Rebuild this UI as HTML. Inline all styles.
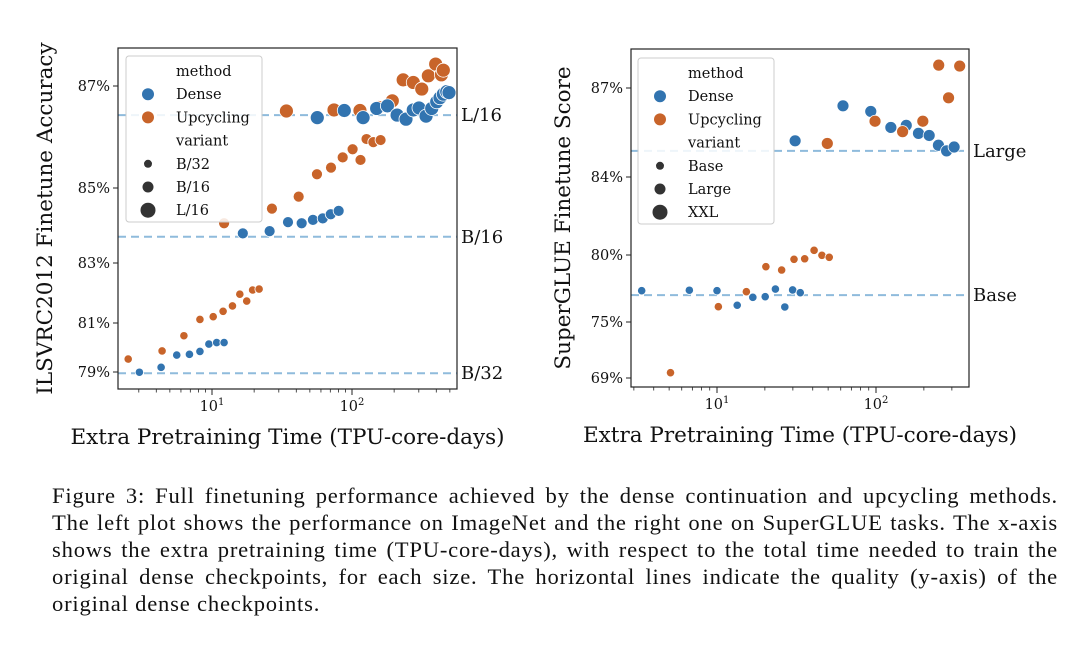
<!DOCTYPE html>
<html><head><meta charset="utf-8"><style>
html,body{margin:0;padding:0;background:#fff;}
body{width:1080px;height:649px;overflow:hidden;position:relative;}
svg{position:absolute;left:0;top:0;}
.cap{position:absolute;left:52px;top:482px;width:1006px;font-family:"Liberation Serif",serif;font-size:22.6px;line-height:27px;color:#111;letter-spacing:0.8px;}
.cap div{white-space:nowrap;text-align:justify;text-align-last:justify;}
.cap div.last{text-align-last:left;}
</style></head><body>
<svg id="fig" width="1080" height="470" font-family="'DejaVu Serif',serif"></svg>
<div class="cap">
<div>Figure 3: Full finetuning performance achieved by the dense continuation and upcycling methods.</div>
<div>The left plot shows the performance on ImageNet and the right one on SuperGLUE tasks. The x-axis</div>
<div>shows the extra pretraining time (TPU-core-days), with respect to the total time needed to train the</div>
<div>original dense checkpoints, for each size. The horizontal lines indicate the quality (y-axis) of the</div>
<div class="last">original dense checkpoints.</div>
</div>
<script>
// ---- Left chart data (ImageNet) ----
const L_b32_up_x=[2.52,4.4,6.3,8.2,10.2,12.0,14.0,15.8,17.7,19.5,21.7];
const L_b32_up_y=[79.53,79.86,80.48,81.12,81.21,81.39,81.57,81.96,81.73,82.1,82.13];
const L_b32_de_x=[3.03,4.33,5.6,6.9,8.2,9.5,10.8,12.2];
const L_b32_de_y=[78.99,79.19,79.69,79.72,79.84,80.14,80.2,80.2];
const L_b16_up_x=[12.2,26.8,41.6,56.2,70.8,85.8,101,115,127,142,160];
const L_b16_up_y=[84.06,84.45,84.77,85.27,85.40,85.60,85.76,85.55,85.96,85.90,85.94];
const L_b16_de_x=[16.6,25.8,34.9,43.7,52.6,61.8,70.5,80.3];
const L_b16_de_y=[83.79,83.85,84.09,84.06,84.15,84.19,84.30,84.39];
const L_l16_up_x=[34,74.4,114,155,194,232,274,315,351,396,435,449];
const L_l16_up_y=[86.51,86.53,86.52,86.58,86.71,87.12,87.07,86.94,87.2,87.43,87.22,87.31];
const L_l16_de_x=[56.5,88.1,120,150,179,210,243,274,301,338,371,403,425,449,475,493];
const L_l16_de_y=[86.38,86.52,86.38,86.56,86.61,86.43,86.35,86.53,86.57,86.41,86.56,86.69,86.77,86.84,86.89,86.87];
const L_ref_vals=[86.43,83.70,78.95];
const L_ref_labels=["L/16","B/16","B/32"];
const L_yticks=[79,81,83,85,87];
const L_yticklabels=["79%","81%","83%","85%","87%"];
// ---- Right chart data (SuperGLUE) ----
const R_base_de_x=[3.36,6.7,10.0,13.4,16.8,20.1,23.3,26.7,29.9,33.4];
const R_base_de_y=[77.34,77.37,77.34,76.25,76.84,76.89,77.46,76.12,77.39,77.19];
const R_base_up_x=[5.1,10.2,15.3,20.3,25.5,30.5,35.6,40.8,45.7,50.8];
const R_base_up_y=[69.57,76.14,77.26,79.13,78.88,79.68,79.72,80.24,79.98,79.83];
const R_large_de_x=[31,62,92.7,124,155,185,216,247,278,310];
const R_large_de_y=[85.22,86.40,86.21,85.67,85.74,85.47,85.40,85.07,84.88,85.01];
const R_large_up_x=[49.4,98.6,147,197,286,248,336];
const R_large_up_y=[85.13,85.88,85.53,85.88,86.67,87.77,87.74];
const R_ref_vals=[84.88,77.01];
const R_ref_labels=["Large","Base"];
const R_yticks=[69,75,80,84,87];
const R_yticklabels=["69%","75%","80%","84%","87%"];

const BLUE="#3274b0",ORANGE="#c8642a",REF="#8fbbdc";
const NS="http://www.w3.org/2000/svg";
const svg=document.getElementById('fig');
function mk(tag,attrs,parent){const e=document.createElementNS(NS,tag);for(const k in attrs)e.setAttribute(k,attrs[k]);(parent||svg).appendChild(e);return e;}

function makeChart(cfg){
  const g=mk('g',{});
  
  
  const xs=v=>cfg.x0px+(Math.log10(v)-1)*cfg.decPx;
  const ys=v=>{const t=cfg.yticks,p=cfg.ytickPx;let i=0;
    if(v<=t[0])i=0;else if(v>=t[t.length-1])i=t.length-2;else{while(v>t[i+1])i++;}
    return p[i]+(v-t[i])*(p[i+1]-p[i])/(t[i+1]-t[i]);};
  cfg.refs.forEach((v,i)=>{
    const l=mk('line',{x1:cfg.L,x2:cfg.R,y1:ys(v),y2:ys(v),stroke:REF,'stroke-width':2,'stroke-dasharray':'8,5'},g);
    
    
    const t=mk('text',{x:cfg.R+4,y:ys(v)+6,'font-size':18,fill:'#111'},g);t.textContent=cfg.refLabels[i];
    
    
  });
  cfg.series.forEach(s=>{
    s.x.forEach((xv,i)=>{
      const c=mk('circle',{cx:xs(xv),cy:ys(s.y[i]),r:s.r,fill:s.c,stroke:'#fff','stroke-width':0.8},g);
      
      
    });
  });
  const f=mk('rect',{x:cfg.L,y:cfg.T,width:cfg.R-cfg.L,height:cfg.B-cfg.T,fill:'none',stroke:'#222','stroke-width':1.2},g);
  
  
  cfg.yticks.forEach((v,i)=>{
    mk('line',{x1:cfg.L-5,x2:cfg.L,y1:ys(v),y2:ys(v),stroke:'#222','stroke-width':1},g);
    const t=mk('text',{x:cfg.L-8,y:ys(v)+5,'font-size':14.5,'text-anchor':'end',fill:'#111'},g);t.textContent=cfg.ylabels[i];
    
    
  });
  for(let d=0;d<=3;d++)for(let m=1;m<10;m++){
    const v=m*Math.pow(10,d);const px=xs(v);
    if(px<cfg.L||px>cfg.R)continue;
    mk('line',{x1:px,x2:px,y1:cfg.B,y2:cfg.B+(m==1?6:3.5),stroke:'#222','stroke-width':m==1?1:0.8},g);
    if(m==1){const t=mk('text',{x:px,y:cfg.B+22,'font-size':14.5,'text-anchor':'middle',fill:'#111'},g);
      
      
      t.innerHTML='10<tspan dy="-6" font-size="10">'+d+'</tspan>';}
  }
  const xt=mk('text',{x:(cfg.L+cfg.R)/2,y:cfg.B+55,'font-size':21.5,'text-anchor':'middle',fill:'#111'},g);xt.textContent='Extra Pretraining Time (TPU-core-days)';
  
  
  const yt=mk('text',{x:0,y:0,'font-size':21.5,'text-anchor':'middle',fill:'#111',transform:`translate(${cfg.ytx},${(cfg.T+cfg.B)/2}) rotate(-90)`},g);yt.textContent=cfg.ytitle;
  
  
  const lg=mk('g',{},g);
  
  
  const lx=cfg.leg[0],ly=cfg.leg[1];
  mk('rect',{x:lx,y:ly,width:136,height:166,rx:3,fill:'#fff','fill-opacity':0.85,stroke:'#ccc','stroke-width':1},lg);
  const items=[['method',null,0],['Dense',BLUE,6],['Upcycling',ORANGE,6],['variant',null,0],[cfg.vn[0],'#333',4],[cfg.vn[1],'#333',5.5],[cfg.vn[2],'#333',7.5]];
  items.forEach((it,i)=>{const yy=ly+15+i*23.2;
    if(it[1]){const c=mk('circle',{cx:lx+22,cy:yy,r:it[2],fill:it[1]},lg);
      
      }
    const t=mk('text',{x:lx+50,y:yy+5,'font-size':14.5,fill:'#111'},lg);t.textContent=it[0];
    
    
  });
}
makeChart({name:'imagenet-chart',L:118,R:457,T:48,B:389,x0px:212,decPx:140,
  yticks:L_yticks,ytickPx:[372,323,263,188,86],ylabels:L_yticklabels,
  refs:L_ref_vals,refLabels:L_ref_labels,ytx:52,ytitle:'ILSVRC2012 Finetune Accuracy',leg:[126,56],
  vn:['B/32','B/16','L/16'],
  series:[{x:L_b32_up_x,y:L_b32_up_y,r:4.2,c:ORANGE},{x:L_b32_de_x,y:L_b32_de_y,r:4.2,c:BLUE},
    {x:L_b16_up_x,y:L_b16_up_y,r:5.5,c:ORANGE},{x:L_b16_de_x,y:L_b16_de_y,r:5.5,c:BLUE},
    {x:L_l16_up_x,y:L_l16_up_y,r:7,c:ORANGE},{x:L_l16_de_x,y:L_l16_de_y,r:7,c:BLUE}]});
makeChart({name:'superglue-chart',L:631,R:969,T:49,B:387,x0px:717,decPx:159,
  yticks:R_yticks,ytickPx:[378,322,255,177,88],ylabels:R_yticklabels,
  refs:R_ref_vals,refLabels:R_ref_labels,ytx:570,ytitle:'SuperGLUE Finetune Score',leg:[638,58],
  vn:['Base','Large','XXL'],
  series:[{x:R_base_de_x,y:R_base_de_y,r:4.2,c:BLUE},{x:R_base_up_x,y:R_base_up_y,r:4.2,c:ORANGE},
    {x:R_large_de_x,y:R_large_de_y,r:6,c:BLUE},{x:R_large_up_x,y:R_large_up_y,r:6,c:ORANGE}]});
</script>
</body></html>
